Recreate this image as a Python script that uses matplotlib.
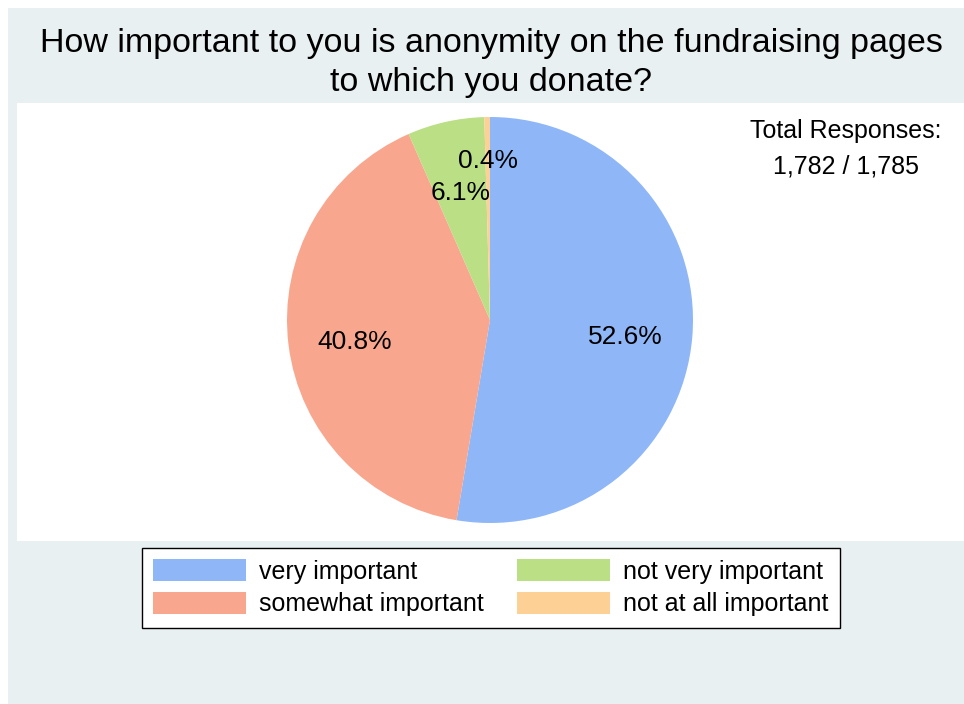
import matplotlib
matplotlib.use("Agg")
import matplotlib.pyplot as plt
from matplotlib.patches import Rectangle
import numpy as np

plt.rcParams['font.family'] = ['Liberation Sans', 'DejaVu Sans']

categories = ["very important", "somewhat important", "not very important", "not at all important"]
counts = [938, 727, 109, 8]
colors = ["#8fb7f8", "#f9a68e", "#bbdf85", "#fdd096"]
title = "How important to you is anonymity on the fundraising pages\nto which you donate?"
responses = "Total Responses:\n1,782 / 1,785"

W, H = 964, 704
fig = plt.figure(figsize=(W / 100, H / 100), dpi=100)
fig.patch.set_facecolor("white")


def box(x0, y0, x1, y1):
    # pixel box (top-left origin) -> figure fraction
    return [x0 / W, 1 - y1 / H, (x1 - x0) / W, (y1 - y0) / H]


# outer panel and inner white plot area
fig.patches.append(Rectangle((8 / W, 0), 1 - 8 / W, 1 - 8 / H, transform=fig.transFigure,
                             facecolor="#e8f0f2", edgecolor="none", zorder=-2))
fig.patches.append(Rectangle((17 / W, 1 - 541 / H), 1 - 17 / W, (541 - 103) / H,
                             transform=fig.transFigure, facecolor="white", edgecolor="none", zorder=-1))

fig.text(491 / W, 1 - 63 / H, title, ha="center", va="center", fontsize=24.5, linespacing=1.37)
fig.text(846 / W, 1 - 149 / H, responses, ha="center", va="center", fontsize=18, linespacing=1.6)

ax = fig.add_axes(box(287, 117, 693, 523))
ax.set_zorder(2)
wedges, texts, autotexts = ax.pie(
    counts, colors=colors, startangle=90, counterclock=False,
    autopct="%.1f%%", pctdistance=0.67, radius=1,
    wedgeprops=dict(linewidth=0), textprops=dict(fontsize=19),
)
# labels sit a little low in the original; the tiny last slice is pushed further out
for i, t in enumerate(autotexts):
    w = wedges[i]
    ang = np.deg2rad((w.theta1 + w.theta2) / 2)
    r = 0.81 if i == 3 else 0.67
    t.set_position((r * np.cos(ang), r * np.sin(ang) - 0.027))
ax.set_xlim(-1, 1)
ax.set_ylim(-1, 1)
ax.set_aspect("equal")
ax.axis("off")

leg = fig.legend(wedges, categories, ncol=2, loc="center",
                 bbox_to_anchor=(491 / W, 1 - 587.5 / H), fontsize=18,
                 frameon=True, fancybox=False, edgecolor="black", framealpha=1,
                 handlelength=3.72, handleheight=1.0, handletextpad=0.52,
                 columnspacing=1.32, labelspacing=0.32, borderpad=0.45, borderaxespad=0)
leg.get_frame().set_linewidth(1)

fig.savefig("out.png", dpi=100)
